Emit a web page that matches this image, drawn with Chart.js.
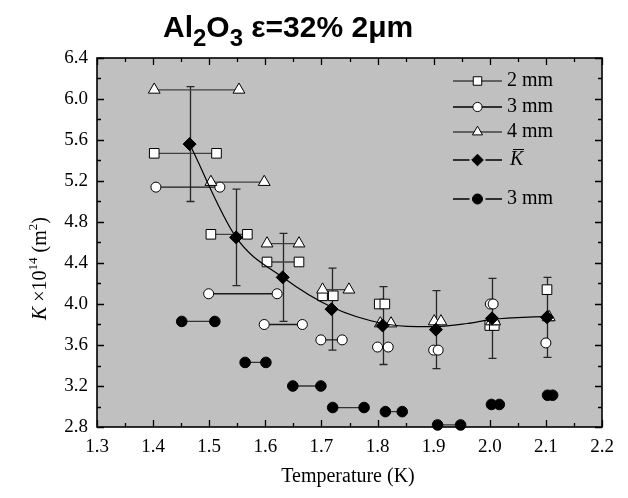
<!DOCTYPE html>
<html>
<head>
<meta charset="utf-8">
<script src="https://cdn.jsdelivr.net/npm/chart.js@4/dist/chart.umd.min.js"></script>
<style>
  html, body { margin: 0; padding: 0; background: #fff; }
  canvas { display: block; }
</style>
</head>
<body>
<canvas id="permChart" width="628" height="498"></canvas>
<script>
// Mean permeability K-bar with its error bars
const tempMean = [1.465, 1.548, 1.631, 1.718, 1.809, 1.904, 2.004, 2.102];
const kMean    = [5.56, 4.65, 4.26, 3.95, 3.79, 3.75, 3.86, 3.87];
const kMeanErr = [0.56, 0.47, 0.43, 0.40, 0.38, 0.38, 0.39, 0.39];

// Smooth curve through the mean values
const fitTemp = [1.465, 1.548, 1.631, 1.718, 1.809, 1.87, 1.904, 1.96, 2.004, 2.102];
const fitK    = [5.56, 4.65, 4.26, 3.97, 3.81, 3.78, 3.78, 3.81, 3.85, 3.88];

// 2 mm samples: start / end temperature of each run and its K
const temp2mmA = [1.402, 1.503, 1.603, 1.702, 1.803, 2.000, 2.102];
const temp2mmB = [1.513, 1.568, 1.660, 1.721, 1.813, 2.008, 2.102];
const k2mm     = [5.47, 4.68, 4.41, 4.08, 4.00, 3.79, 4.14];

// 3 mm samples
const temp3mmA = [1.405, 1.499, 1.598, 1.699, 1.800, 1.900, 2.001, 2.100];
const temp3mmB = [1.519, 1.621, 1.666, 1.737, 1.819, 1.908, 2.006, 2.100];
const k3mm     = [5.14, 4.10, 3.80, 3.65, 3.58, 3.55, 4.00, 3.62];

// 4 mm samples
const temp4mmA = [1.402, 1.503, 1.603, 1.702, 1.805, 1.901, 2.003, 2.104];
const temp4mmB = [1.553, 1.598, 1.660, 1.749, 1.824, 1.913, 2.009, 2.106];
const k4mm     = [6.09, 5.19, 4.59, 4.14, 3.81, 3.83, 3.83, 3.87];

// second 3 mm set (filled)
const tempFilledA = [1.451, 1.564, 1.649, 1.720, 1.814, 1.907, 2.003, 2.103];
const tempFilledB = [1.510, 1.601, 1.699, 1.776, 1.844, 1.948, 2.017, 2.112];
const kFilled     = [3.83, 3.43, 3.20, 2.99, 2.95, 2.82, 3.02, 3.11];

const xMin = 1.3, xMax = 2.2, xStep = 0.1;
const yMin = 2.8, yMax = 6.4, yStep = 0.4;

const SERIF = '"Liberation Serif", "Times New Roman", serif';
const SANS = '"Liberation Sans", Arial, sans-serif';

// each run becomes a short horizontal segment, runs separated by a gap
function runs(a, b, k) {
  const pts = [];
  k.forEach((v, i) => {
    pts.push({ x: a[i], y: v });
    if (b[i] !== a[i]) pts.push({ x: b[i], y: v });
    pts.push({ x: b[i], y: null });
  });
  return pts;
}

function runSet(label, a, b, k, style, fill, lineColor, radius) {
  return {
    label: label,
    data: runs(a, b, k),
    borderColor: lineColor,
    borderWidth: 1.3,
    pointStyle: style,
    pointRadius: radius,
    pointBackgroundColor: fill,
    pointBorderColor: '#000',
    pointBorderWidth: 1,
    spanGaps: false,
    tension: 0,
    clip: false
  };
}

const meanPoints = tempMean.map((t, i) => ({ x: t, y: kMean[i] }));
const fitPoints = fitTemp.map((t, i) => ({ x: t, y: fitK[i] }));

// background, frame, inward ticks, error bars, legend and titles
const decorations = {
  id: 'decorations',
  beforeDraw(chart) {
    const { ctx, chartArea: a } = chart;
    ctx.save();
    ctx.fillStyle = '#ffffff';
    ctx.fillRect(0, 0, chart.width, chart.height);
    ctx.fillStyle = '#c0c0c0';
    ctx.fillRect(a.left, a.top, a.right - a.left, a.bottom - a.top);
    ctx.restore();
  },
  beforeDatasetsDraw(chart) {
    const { ctx, scales: { x, y } } = chart;
    ctx.save();
    ctx.strokeStyle = '#262626';
    ctx.lineWidth = 1.3;
    tempMean.forEach((t, i) => {
      const px = Math.round(x.getPixelForValue(t)) + 0.5;
      const top = y.getPixelForValue(kMean[i] + kMeanErr[i]);
      const bot = y.getPixelForValue(kMean[i] - kMeanErr[i]);
      ctx.beginPath();
      ctx.moveTo(px, top); ctx.lineTo(px, bot);
      ctx.moveTo(px - 4, top); ctx.lineTo(px + 4, top);
      ctx.moveTo(px - 4, bot); ctx.lineTo(px + 4, bot);
      ctx.stroke();
    });
    ctx.restore();
  },
  afterDatasetsDraw(chart) {
    const { ctx } = chart;
    const drawPoint = Chart.helpers.drawPoint;
    ctx.save();
    const rows = [
      { y: 81, style: 'rect', r: 6, fill: '#fff', line: '#404040', gap: false, text: '2 mm' },
      { y: 107, style: 'circle', r: 4.6, fill: '#fff', line: '#000', gap: false, text: '3 mm' },
      { y: 132, style: 'triangle', r: 5.8, fill: '#fff', line: '#404040', gap: false, text: '4 mm' },
      { y: 160, style: 'rectRot', r: 5.8, fill: '#000', line: '#000', gap: true, text: 'K' },
      { y: 199, style: 'circle', r: 5, fill: '#000', line: '#000', gap: true, text: '3 mm' }
    ];
    const x0 = 453, x1 = 502, xm = 477.5;
    rows.forEach(row => {
      ctx.strokeStyle = row.line;
      ctx.lineWidth = 1.3;
      ctx.beginPath();
      if (row.gap) {
        ctx.moveTo(x0, row.y); ctx.lineTo(xm - 8, row.y);
        ctx.moveTo(xm + 8, row.y); ctx.lineTo(x1, row.y);
      } else {
        ctx.moveTo(x0, row.y); ctx.lineTo(x1, row.y);
      }
      ctx.stroke();
      ctx.fillStyle = row.fill;
      ctx.strokeStyle = '#000';
      ctx.lineWidth = 1;
      drawPoint(ctx, { pointStyle: row.style, radius: row.r, rotation: 0, borderWidth: 1 }, xm, row.y);
      ctx.fillStyle = '#000';
      ctx.textBaseline = 'middle';
      ctx.textAlign = 'left';
      if (row.text === 'K') {
        ctx.font = 'italic 20px ' + SERIF;
        ctx.fillText('K', 510, row.y);
        ctx.lineWidth = 1;
        ctx.beginPath();
        ctx.moveTo(513, row.y - 10.5); ctx.lineTo(524, row.y - 10.5);
        ctx.stroke();
      } else {
        ctx.font = '20px ' + SERIF;
        ctx.fillText(row.text, 507, row.y);
      }
    });
    ctx.restore();
  },
  afterDraw(chart) {
    const { ctx, chartArea: a, scales: { x, y } } = chart;
    ctx.save();
    // frame
    ctx.strokeStyle = '#000';
    ctx.lineWidth = 1.6;
    ctx.strokeRect(a.left, a.top, a.right - a.left, a.bottom - a.top);

    // inward ticks on all four sides
    ctx.lineWidth = 1.3;
    ctx.beginPath();
    for (let v = xMin; v <= xMax + 1e-9; v += xStep / 2) {
      const major = Math.abs(Math.round(v / xStep) * xStep - v) < 1e-6;
      const len = major ? 7 : 4;
      const px = Math.round(x.getPixelForValue(v)) + 0.5;
      ctx.moveTo(px, a.bottom); ctx.lineTo(px, a.bottom - len);
      ctx.moveTo(px, a.top); ctx.lineTo(px, a.top + len);
    }
    for (let v = yMin; v <= yMax + 1e-9; v += yStep / 2) {
      const major = Math.abs(Math.round((v - yMin) / yStep) * yStep - (v - yMin)) < 1e-6;
      const len = major ? 7 : 4;
      const py = Math.round(y.getPixelForValue(v)) + 0.5;
      ctx.moveTo(a.left, py); ctx.lineTo(a.left + len, py);
      ctx.moveTo(a.right, py); ctx.lineTo(a.right - len, py);
    }
    ctx.stroke();

    ctx.fillStyle = '#000';

    // chart title with subscripts
    let tx = 163;
    const base = 37;
    const parts = [
      ['Al', 30, 0], ['2', 24, 9], ['O', 30, 0], ['3', 24, 9], [' \u03b5=32% 2\u03bcm', 30, 0]
    ];
    ctx.textAlign = 'left';
    ctx.textBaseline = 'alphabetic';
    parts.forEach(([s, size, drop]) => {
      ctx.font = 'bold ' + size + 'px ' + SANS;
      ctx.fillText(s, tx, base + drop);
      tx += ctx.measureText(s).width;
    });

    // x axis title
    ctx.font = '20px ' + SERIF;
    ctx.textAlign = 'center';
    ctx.textBaseline = 'middle';
    ctx.fillText('Temperature (K)', 348, 477);

    // y axis title, rotated, with italic K and superscripts
    ctx.translate(46, 320);
    ctx.rotate(-Math.PI / 2);
    ctx.textAlign = 'left';
    ctx.textBaseline = 'alphabetic';
    const yParts = [
      ['K', 'italic 20px ', 0], [' \u00d710', '20px ', 0], ['14', '13px ', -9],
      [' (m', '20px ', 0], ['2', '13px ', -9], [')', '20px ', 0]
    ];
    let ty = 0;
    yParts.forEach(([s, f, rise]) => {
      ctx.font = f + SERIF;
      ctx.fillText(s, ty, rise);
      ty += ctx.measureText(s).width;
    });
    ctx.restore();
  }
};

const ctx = document.getElementById('permChart').getContext('2d');

new Chart(ctx, {
  type: 'line',
  data: {
    datasets: [
      {
        label: 'K mean',
        data: meanPoints,
        showLine: false,
        pointStyle: 'rectRot',
        pointRadius: 6.5,
        pointBackgroundColor: '#000',
        pointBorderColor: '#000',
        pointBorderWidth: 1,
        clip: false
      },
      {
        label: 'fit',
        data: fitPoints,
        borderColor: '#000',
        borderWidth: 1.2,
        pointRadius: 0,
        cubicInterpolationMode: 'monotone',
        clip: false
      },
      runSet('4 mm', temp4mmA, temp4mmB, k4mm, 'triangle', '#fff', '#404040', 6.8),
      runSet('3 mm', temp3mmA, temp3mmB, k3mm, 'circle', '#fff', '#1a1a1a', 5),
      runSet('2 mm', temp2mmA, temp2mmB, k2mm, 'rect', '#fff', '#404040', 6.8),
      runSet('3 mm filled', tempFilledA, tempFilledB, kFilled, 'circle', '#000', '#333', 5.3)
    ]
  },
  options: {
    responsive: false,
    devicePixelRatio: 1,
    animation: false,
    layout: { padding: { top: 58, right: 26, left: 0, bottom: 0 } },
    plugins: {
      legend: { display: false },
      tooltip: { enabled: false },
      title: { display: false }
    },
    scales: {
      x: {
        type: 'linear',
        min: xMin,
        max: xMax,
        grid: { display: false, drawTicks: false },
        border: { display: false },
        ticks: {
          stepSize: xStep,
          color: '#000',
          padding: 9,
          maxRotation: 0,
          font: { family: SERIF, size: 19 },
          callback: v => v.toFixed(1)
        },
        afterFit: scale => { scale.height = 71; }
      },
      y: {
        type: 'linear',
        min: yMin,
        max: yMax,
        grid: { display: false, drawTicks: false },
        border: { display: false },
        ticks: {
          stepSize: yStep,
          color: '#000',
          padding: 9,
          font: { family: SERIF, size: 19 },
          callback: v => v.toFixed(1)
        },
        afterFit: scale => { scale.width = 97; }
      }
    }
  },
  plugins: [decorations]
});
</script>
</body>
</html>
